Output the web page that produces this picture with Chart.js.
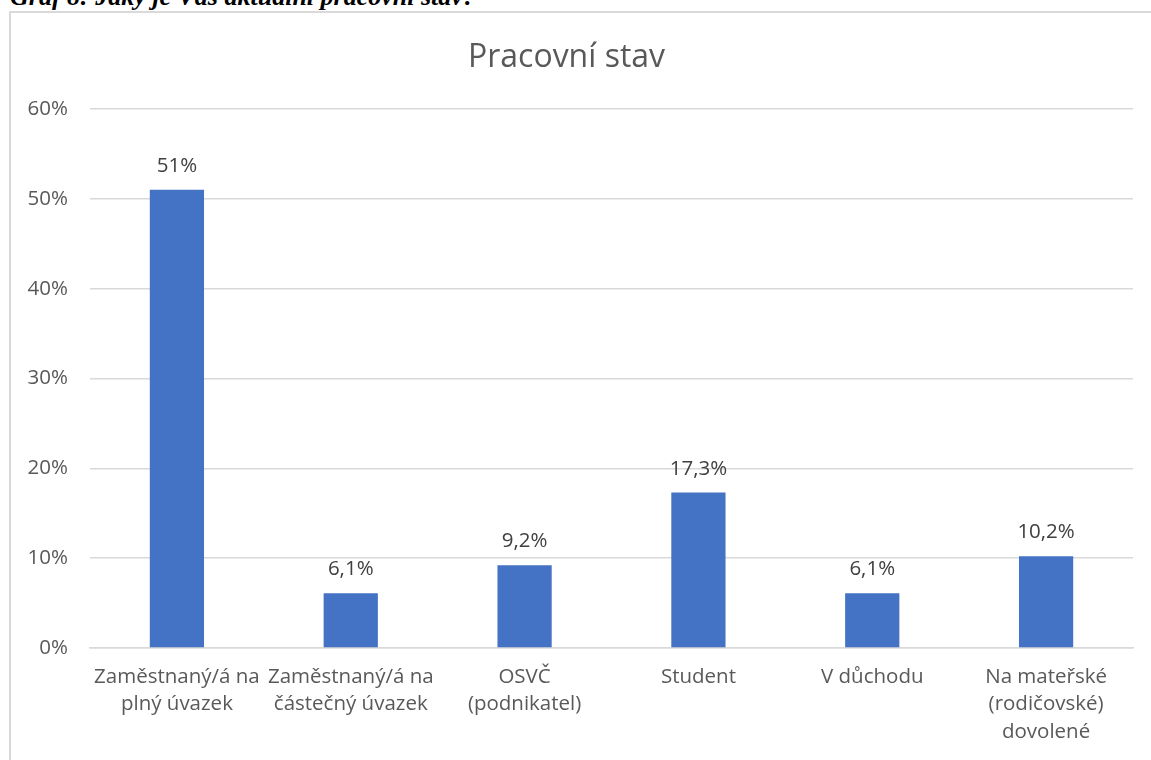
<!DOCTYPE html>
<html><head><meta charset="utf-8">
<script src="https://cdn.jsdelivr.net/npm/chart.js@4.4.1/dist/chart.umd.min.js"></script>
<style>
html,body{margin:0;padding:0;background:#fff;width:1151px;height:760px;overflow:hidden;position:relative}
#caption{position:absolute;left:10px;top:-16px;font:bold italic 26px "Liberation Serif","Times New Roman",serif;color:#000;white-space:nowrap;line-height:26px}
#frame{position:absolute;left:9px;top:11px;width:1200px;height:800px;border:2px solid #d9d9d9;box-sizing:border-box}
#wrap{position:absolute;left:0;top:0;width:1151px;height:760px}
</style></head><body>
<div id="caption">Graf 8: Jaký je Váš aktuální pracovní stav?</div>
<div id="frame"></div>
<div id="wrap"><canvas id="c" width="1151" height="760"></canvas></div>
<script>
const chartTitle = 'Pracovní stav';
const categories = [
  ['Zaměstnaný/á na', 'plný úvazek'],
  ['Zaměstnaný/á na', 'částečný úvazek'],
  ['OSVČ', '(podnikatel)'],
  ['Student'],
  ['V důchodu'],
  ['Na mateřské', '(rodičovské)', 'dovolené']
];
const values = [51, 6.1, 9.2, 17.3, 6.1, 10.2];
const yMin = 0, yMax = 60, yStep = 10;

const FONT = '"Open Sans", Lato, sans-serif';
const fmt = v => String(v).replace('.', ',') + '%';

const dataLabels = {
  id: 'dataLabels',
  afterDatasetsDraw(chart) {
    const ctx = chart.ctx;
    ctx.save();
    ctx.font = '20.5px ' + FONT;
    ctx.fillStyle = '#404040';
    ctx.textAlign = 'center';
    ctx.textBaseline = 'alphabetic';
    chart.getDatasetMeta(0).data.forEach((bar, i) => {
      ctx.fillText(fmt(values[i]), bar.x, bar.y - 18);
    });
    ctx.restore();
  }
};

new Chart(document.getElementById('c'), {
  type: 'bar',
  data: {
    labels: categories,
    datasets: [{
      data: values,
      backgroundColor: '#4472C4',
      borderWidth: 0,
      categoryPercentage: 1,
      barPercentage: 0.312
    }]
  },
  options: {
    responsive: false,
    animation: false,
    layout: { padding: { left: 0, right: 18, top: 0, bottom: 0 } },
    plugins: {
      legend: { display: false },
      tooltip: { enabled: false },
      title: {
        display: true,
        text: chartTitle,
        color: '#595959',
        font: { family: FONT, size: 32, weight: 'normal', lineHeight: 1.2 },
        padding: { top: 39, bottom: 31.6 }
      }
    },
    scales: {
      x: {
        grid: { display: false, drawTicks: false },
        border: { display: true, color: '#d9d9d9', width: 1.5 },
        ticks: {
          color: '#595959',
          font: { family: FONT, size: 20.5, lineHeight: 1.34 },
          padding: 15,
          maxRotation: 0,
          autoSkip: false
        },
        afterFit: s => { s.height = 112; }
      },
      y: {
        min: yMin, max: yMax,
        grid: { color: '#d9d9d9', lineWidth: 1.5, drawTicks: false },
        border: { display: false },
        ticks: {
          stepSize: yStep,
          color: '#595959',
          font: { family: FONT, size: 20.5 },
          padding: 22,
          callback: v => v + '%'
        },
        afterFit: s => { s.width = 90; }
      }
    }
  },
  plugins: [dataLabels]
});
</script>
</body></html>
